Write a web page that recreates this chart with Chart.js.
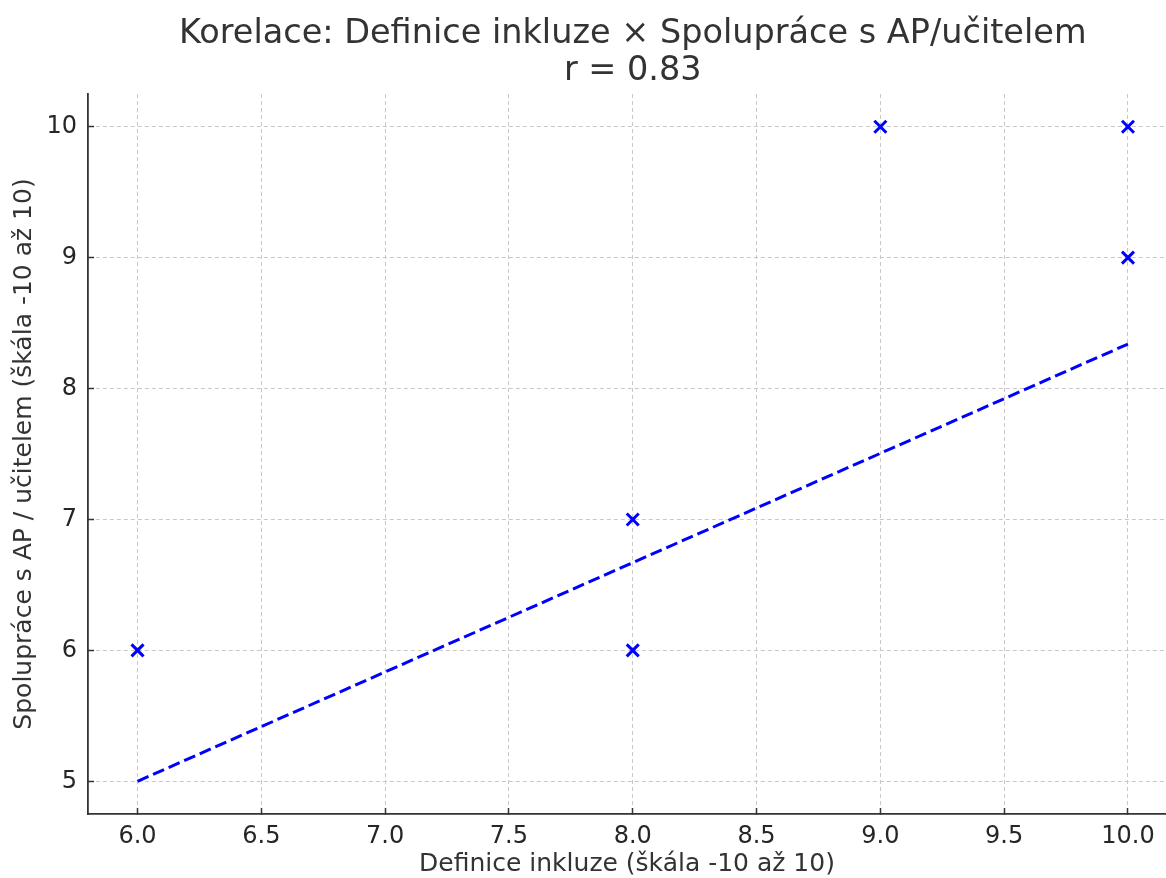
<!DOCTYPE html>
<html>
<head>
<meta charset="utf-8">
<script src="https://cdn.jsdelivr.net/npm/chart.js@4.4.1/dist/chart.umd.min.js"></script>
<style>
  html, body { margin: 0; padding: 0; background: #fff; }
  canvas { display: block; }
</style>
</head>
<body>
<canvas id="corrChart" width="1166" height="878"></canvas>
<script>
// Data
const defValues = [6, 8, 8, 9, 10, 10];      // Definice inkluze
const coopValues = [6, 7, 6, 10, 10, 9];     // Spolupráce s AP/učitelem
const fitX = [6, 10];
const fitY = [5.0, 8.34];
const xTicks = [6.0, 6.5, 7.0, 7.5, 8.0, 8.5, 9.0, 9.5, 10.0];
const yTicks = [5, 6, 7, 8, 9, 10];
const titleLines = ['Korelace: Definice inkluze × Spolupráce s AP/učitelem', 'r = 0.83'];

const FONT = "'DejaVu Sans', sans-serif";
const TEXT = '#333333';

// the original axes run to 10.2 but the picture is cut at the right edge
const X_FULL_MAX = 10.2;

// Title drawn centered over the full axes (matplotlib style)
const titlePlugin = {
    id: 'axesTitle',
    afterDraw(chart) {
        const ctx = chart.ctx;
        const xs = chart.scales.x;
        const cx = (xs.left + xs.getPixelForValue(X_FULL_MAX)) / 2;
        ctx.save();
        ctx.fillStyle = TEXT;
        ctx.font = `33.5px ${FONT}`;
        ctx.textAlign = 'center';
        ctx.textBaseline = 'middle';
        ctx.fillText(titleLines[0], cx, 34);
        ctx.fillText(titleLines[1], cx, 71);
        ctx.restore();
    }
};

const pts = defValues.map((x, i) => ({ x: x, y: coopValues[i] }));
const fitPts = fitX.map((x, i) => ({ x: x, y: fitY[i] }));

new Chart(document.getElementById('corrChart'), {
    type: 'scatter',
    data: {
        datasets: [
            {
                label: 'data',
                data: pts,
                pointStyle: 'crossRot',
                pointRadius: 8.5,
                pointHoverRadius: 8.5,
                borderColor: '#0000ff',
                backgroundColor: '#0000ff',
                pointBorderWidth: 3,
                order: 1
            },
            {
                label: 'fit',
                data: fitPts,
                showLine: true,
                pointRadius: 0,
                borderColor: '#0000ff',
                borderWidth: 3,
                borderDash: [12, 5],
                order: 2
            }
        ]
    },
    options: {
        responsive: false,
        animation: false,
        layout: { autoPadding: false, padding: { top: 94, right: 0, left: 0, bottom: 0 } },
        plugins: {
            legend: { display: false },
            tooltip: { enabled: false },
            title: { display: false }
        },
        scales: {
            x: {
                type: 'linear',
                min: 5.8,
                max: 10.1536,
                afterFit(scale) {
                    scale.height = 64;
                    scale.paddingLeft = 0;
                    scale.paddingRight = 0;
                },
                afterBuildTicks(scale) { scale.ticks = xTicks.map(v => ({ value: v })); },
                grid: {
                    color: '#c8c8c8',
                    lineWidth: 1,
                    tickLength: -6,
                    tickColor: TEXT,
                    tickWidth: 1.5,
                    tickBorderDash: []
                },
                border: { display: true, color: TEXT, width: 1.8, dash: [4, 3] },
                ticks: {
                    color: '#262626',
                    padding: 14,
                    font: { family: FONT, size: 24 },
                    callback: v => v.toFixed(1)
                },
                title: {
                    display: true,
                    text: 'Definice inkluze (škála -10 až 10)',
                    color: TEXT,
                    font: { family: FONT, size: 25, lineHeight: 1.1 },
                    padding: { top: 0, bottom: 0 }
                }
            },
            y: {
                type: 'linear',
                min: 4.75,
                max: 10.25,
                afterFit(scale) {
                    scale.width = 88;
                    scale.paddingTop = 0;
                    scale.paddingBottom = 0;
                },
                afterBuildTicks(scale) { scale.ticks = yTicks.map(v => ({ value: v })); },
                grid: {
                    color: '#c8c8c8',
                    lineWidth: 1,
                    tickLength: -6,
                    tickColor: TEXT,
                    tickWidth: 1.5,
                    tickBorderDash: []
                },
                border: { display: true, color: TEXT, width: 1.8, dash: [4, 3] },
                ticks: {
                    color: '#262626',
                    padding: 17,
                    font: { family: FONT, size: 24 },
                    callback: v => String(v)
                },
                title: {
                    display: true,
                    text: 'Spolupráce s AP / učitelem (škála -10 až 10)',
                    color: TEXT,
                    font: { family: FONT, size: 25, lineHeight: 1.1 },
                    padding: { top: 11, bottom: 0 }
                }
            }
        }
    },
    plugins: [titlePlugin]
});
</script>
</body>
</html>
